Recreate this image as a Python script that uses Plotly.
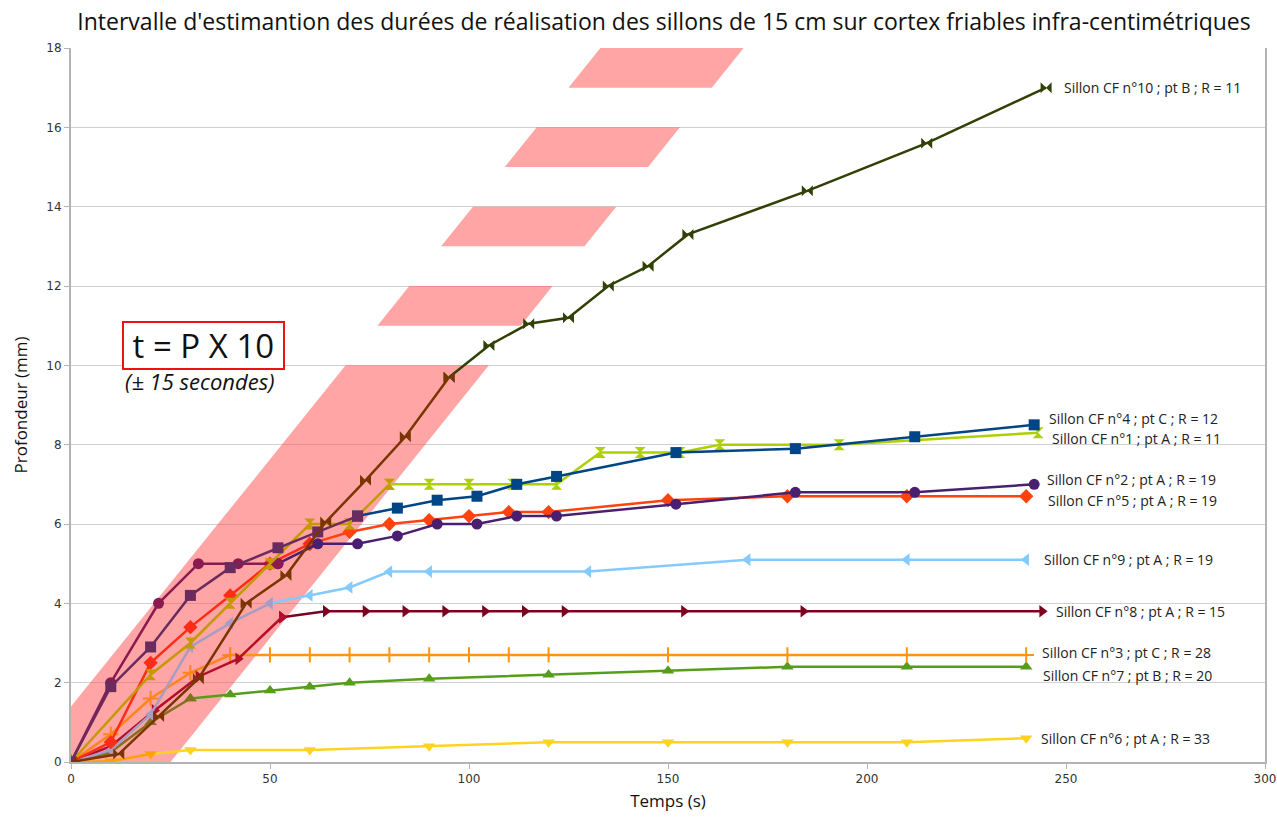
import plotly.graph_objects as go

# ---------------- data ----------------
title_text = "Intervalle d'estimantion des durées de réalisation des sillons de 15 cm sur cortex friables infra-centimétriques"

# estimation band (t in s, P in mm), polygons
band_t = [[0, 25, 105, 69, 0], [77, 113, 121, 85], [93, 129, 137, 101],
          [109, 145, 153, 117], [125, 161, 169, 133]]
band_p = [[0, 0, 10, 10, 1.4], [11, 11, 12, 12], [13, 13, 14, 14],
          [15, 15, 16, 16], [17, 17, 18, 18]]

# series: early part (inside band) and main part
s10_label = "Sillon CF n°10 ; pt B ; R = 11"
s10_t_early = [0, 12, 22, 32, 44, 54, 64, 74, 84, 95]
s10_p_early = [0, 0.2, 1.15, 2.1, 4.0, 4.7, 6.05, 7.1, 8.2, 9.7]
s10_t = [95, 105, 115, 125, 135, 145, 155, 185, 215, 245]
s10_p = [9.7, 10.5, 11.05, 11.2, 12.0, 12.5, 13.3, 14.4, 15.6, 17.0]

s4_label = "Sillon CF n°4 ; pt C ; R = 12"
s4_t_early = [0, 10, 20, 30, 40, 52, 62, 72]
s4_p_early = [0, 1.9, 2.9, 4.2, 4.9, 5.4, 5.8, 6.2]
s4_t = [72, 82, 92, 102, 112, 122, 152, 182, 212, 242]
s4_p = [6.2, 6.4, 6.6, 6.7, 7.0, 7.2, 7.8, 7.9, 8.2, 8.5]

s1_label = "Sillon CF n°1 ; pt A ; R = 11"
s1_t_early = [0, 20, 30, 40, 50, 60, 70, 80]
s1_p_early = [0, 2.2, 3.0, 4.0, 5.0, 6.0, 6.0, 7.0]
s1_t = [80, 90, 100, 111, 122, 133, 143, 153, 163, 193, 243]
s1_p = [7.0, 7.0, 7.0, 7.0, 7.0, 7.8, 7.8, 7.8, 8.0, 8.0, 8.3]

s2_label = "Sillon CF n°2 ; pt A ; R = 19"
s2_t_early = [0, 10, 22, 32, 42, 52]
s2_p_early = [0, 2.0, 4.0, 5.0, 5.0, 5.0]
s2_t = [52, 62, 72, 82, 92, 102, 112, 122, 152, 182, 212, 242]
s2_p = [5.0, 5.5, 5.5, 5.7, 6.0, 6.0, 6.2, 6.2, 6.5, 6.8, 6.8, 7.0]

s5_label = "Sillon CF n°5 ; pt A ; R = 19"
s5_t_early = [0, 10, 20, 30, 40, 50, 60]
s5_p_early = [0, 0.5, 2.5, 3.4, 4.2, 5.0, 5.5]
s5_t = [60, 70, 80, 90, 100, 110, 120, 150, 180, 210, 240]
s5_p = [5.5, 5.8, 6.0, 6.1, 6.2, 6.3, 6.3, 6.6, 6.7, 6.7, 6.7]

s9_label = "Sillon CF n°9 ; pt A ; R = 19"
s9_t_early = [0, 10, 20, 30, 40, 50]
s9_p_early = [0, 0.3, 1.2, 2.9, 3.5, 4.0]
s9_t = [50, 60, 70, 80, 90, 130, 170, 210, 240]
s9_p = [4.0, 4.2, 4.4, 4.8, 4.8, 4.8, 5.1, 5.1, 5.1]

s8_label = "Sillon CF n°8 ; pt A ; R = 15"
s8_t_early = [0, 10, 21, 32, 42, 53]
s8_p_early = [0, 0.4, 1.3, 2.15, 2.6, 3.65]
s8_t = [53, 64, 74, 84, 94, 104, 114, 124, 154, 184, 244]
s8_p = [3.65, 3.8, 3.8, 3.8, 3.8, 3.8, 3.8, 3.8, 3.8, 3.8, 3.8]

s3_label = "Sillon CF n°3 ; pt C ; R = 28"
s3_t_early = [0, 10, 20, 30, 40]
s3_p_early = [0, 0.7, 1.6, 2.25, 2.7]
s3_t = [40, 50, 60, 70, 80, 90, 100, 110, 120, 150, 180, 210, 240]
s3_p = [2.7, 2.7, 2.7, 2.7, 2.7, 2.7, 2.7, 2.7, 2.7, 2.7, 2.7, 2.7, 2.7]

s7_label = "Sillon CF n°7 ; pt B ; R = 20"
s7_t_early = [0, 10, 20, 30]
s7_p_early = [0, 0.25, 1.0, 1.6]
s7_t = [30, 40, 50, 60, 70, 90, 120, 150, 180, 210, 240]
s7_p = [1.6, 1.7, 1.8, 1.9, 2.0, 2.1, 2.2, 2.3, 2.4, 2.4, 2.4]

s6_label = "Sillon CF n°6 ; pt A ; R = 33"
s6_t_early = [0, 10, 20]
s6_p_early = [0, 0.02, 0.2]
s6_t = [20, 30, 60, 90, 120, 150, 180, 210, 240]
s6_p = [0.2, 0.3, 0.3, 0.4, 0.5, 0.5, 0.5, 0.5, 0.6]

x_ticks = [0, 50, 100, 150, 200, 250, 300]
y_ticks = [0, 2, 4, 6, 8, 10, 12, 14, 16, 18]

# ---------------- styles ----------------
series = [
    # (t_early, p_early, early_color, t, p, color, symbol, label, xshift, yshift)
    (s6_t_early, s6_p_early, "#ffa200", s6_t, s6_p, "#ffd320", "triangle-down", s6_label, 13, 0),
    (s7_t_early, s7_p_early, "#86701f", s7_t, s7_p, "#579d1c", "triangle-up", s7_label, 15, -9),
    (s3_t_early, s3_p_early, "#ff8420", s3_t, s3_p, "#ff950e", "cross-thin", s3_label, 14, 2),
    (s8_t_early, s8_p_early, "#b40f2a", s8_t, s8_p, "#7e0021", "triangle-right", s8_label, 12, 0),
    (s9_t_early, s9_p_early, "#a99cc2", s9_t, s9_p, "#83caff", "triangle-left", s9_label, 16, 0),
    (s5_t_early, s5_p_early, "#ff2d16", s5_t, s5_p, "#ff420e", "diamond", s5_label, 20, -4),
    (s2_t_early, s2_p_early, "#8b1a50", s2_t, s2_p, "#4b1f6f", "circle", s2_label, 11, 5),
    (s1_t_early, s1_p_early, "#c49a00", s1_t, s1_p, "#aecf00", "hourglass", s1_label, 12, -6),
    (s4_t_early, s4_p_early, "#6a2c5e", s4_t, s4_p, "#004586", "square", s4_label, 13, 6),
    (s10_t_early, s10_p_early, "#7b3503", s10_t, s10_p, "#314004", "bowtie", s10_label, 16, 0),
]

fig = go.Figure()

for bt, bp in zip(band_t, band_p):
    fig.add_trace(go.Scatter(
        x=bt, y=bp, mode="lines", fill="toself",
        fillcolor="rgba(255,75,75,0.5)", line=dict(width=0),
        hoverinfo="skip", showlegend=False))


def mk(symbol, color):
    if symbol == "cross-thin":
        return dict(symbol=symbol, size=11, color=color, line=dict(color=color, width=2))
    return dict(symbol=symbol, size=11, color=color, line=dict(width=0))


for te, pe, ce, t, p, c, sym, lab, xs, ys in series:
    fig.add_trace(go.Scatter(x=t, y=p, mode="lines+markers",
                             line=dict(color=c, width=2.5), marker=mk(sym, c),
                             showlegend=False, name=lab))
    fig.add_trace(go.Scatter(x=te, y=pe, mode="lines+markers",
                             line=dict(color=ce, width=2.5), marker=mk(sym, ce),
                             showlegend=False, name=lab))
    fig.add_annotation(x=t[-1], y=p[-1], text=lab, showarrow=False,
                       xanchor="left", yanchor="middle", xshift=xs, yshift=ys,
                       font=dict(family="Open Sans", size=14, color="#222"))

fig.add_annotation(x=0.111, y=10.5, xref="paper", yref="y", xanchor="center",
                   yanchor="middle",
                   text="&nbsp;t = P X 10&nbsp;", showarrow=False,
                   font=dict(family="Open Sans", size=33, color="#111"),
                   bordercolor="#ee1111", borderwidth=2, borderpad=0,
                   bgcolor="white")
fig.add_annotation(x=0.108, y=9.6, xref="paper", yref="y", xanchor="center",
                   yanchor="middle",
                   text="<i>(± 15 secondes)</i>", showarrow=False,
                   font=dict(family="Open Sans", size=22, color="#111"))

fig.update_layout(
    width=1277, height=820, autosize=False,
    margin=dict(l=71, r=12, t=48, b=58, pad=0),
    paper_bgcolor="white", plot_bgcolor="white",
    title=dict(text=title_text, x=0.52, xanchor="center", y=0.973, yanchor="middle",
               yref="container",
               font=dict(family="Open Sans", size=23, color="#111")),
    showlegend=False,
)
fig.update_xaxes(range=[0, 300], tickvals=x_ticks, showgrid=False, zeroline=False,
                 automargin=False,
                 showline=True, linecolor="#b3b3b3", linewidth=1.5,
                 ticks="outside", ticklen=5, tickcolor="#b3b3b3",
                 tickfont=dict(family="DejaVu Sans", size=12, color="#333"),
                 title=dict(text="Temps (s)", standoff=10,
                            font=dict(family="Open Sans", size=17, color="#111")))
fig.update_yaxes(range=[0, 18], tickvals=y_ticks, showgrid=True, gridcolor="#d0d0d0",
                 automargin=False,
                 gridwidth=1, zeroline=False, showline=True, mirror=True,
                 linecolor="#b3b3b3", linewidth=2,
                 ticks="outside", ticklen=5, tickcolor="#b3b3b3",
                 tickfont=dict(family="DejaVu Sans", size=12, color="#333"),
                 title=dict(text="Profondeur (mm)", standoff=14,
                            font=dict(family="Open Sans", size=17, color="#111")))

fig.write_html("out.html", config={"displayModeBar": False},
               post_script="document.body.style.margin='0';")
